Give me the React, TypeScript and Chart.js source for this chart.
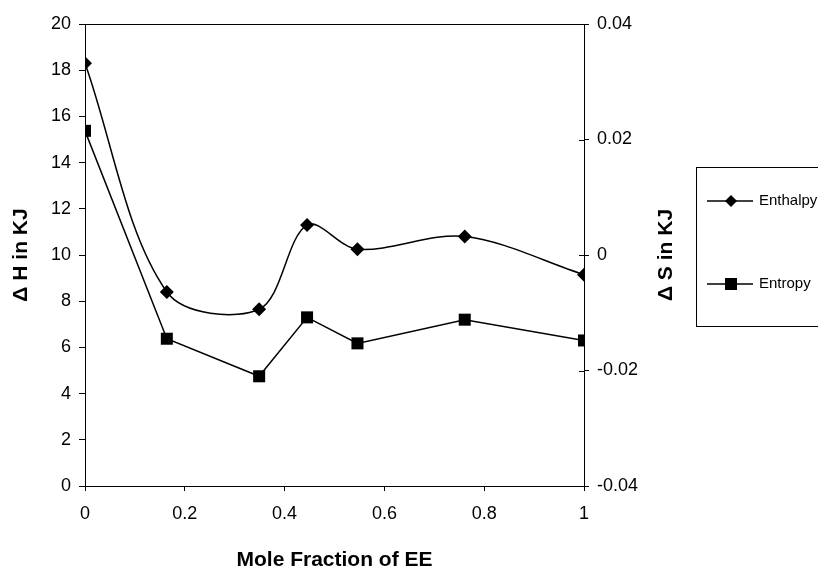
import React, { useEffect, useRef } from "react";
import { Chart, registerables } from "chart.js";

Chart.register(...registerables);

// ---- data ----
const moleFraction = [0, 0.164, 0.349, 0.445, 0.546, 0.761, 1];
const enthalpy = [18.3, 8.4, 7.65, 11.3, 10.25, 10.8, 9.15];
const entropy = [0.0215, -0.0145, -0.021, -0.0108, -0.0153, -0.0112, -0.0148];
const seriesLabels = ["Enthalpy", "Entropy"];
const xTitle = "Mole Fraction of EE";
const yLeftTitle = "Δ H in KJ";
const yRightTitle = "Δ S in KJ";

const FAMILY = "'Liberation Sans', Arial, Helvetica, sans-serif";
const TICK_FONT = { family: FAMILY, size: 18 };
const TITLE_FONT = { family: FAMILY, size: 21, weight: "bold" as const };

const fmt = (v: number | string) => String(Number(Number(v).toFixed(4)));

const framePlugin = {
  id: "frame",
  afterDraw(chart: any) {
    const { ctx, chartArea } = chart;
    ctx.save();
    ctx.strokeStyle = "#000";
    ctx.lineWidth = 1;
    // top border of the plot area
    ctx.beginPath();
    ctx.moveTo(chartArea.left, Math.round(chartArea.top) + 0.5);
    ctx.lineTo(chartArea.right, Math.round(chartArea.top) + 0.5);
    ctx.stroke();
    // inner halves of right-axis ticks
    const y1 = chart.scales.y1;
    y1.ticks.forEach((t: any) => {
      const py = Math.round(y1.getPixelForValue(t.value)) + 0.5;
      ctx.beginPath();
      ctx.moveTo(chartArea.right - 5, py);
      ctx.lineTo(chartArea.right, py);
      ctx.stroke();
    });
    // right axis title, reading bottom-to-top
    ctx.translate(666, (chartArea.top + chartArea.bottom) / 2);
    ctx.rotate(-Math.PI / 2);
    ctx.font = `bold ${TITLE_FONT.size}px ${FAMILY}`;
    ctx.fillStyle = "#000";
    ctx.textAlign = "center";
    ctx.textBaseline = "middle";
    ctx.fillText(yRightTitle, 0, 0);
    ctx.restore();
  },
};

const legendPlugin = {
  id: "boxLegend",
  afterDraw(chart: any) {
    const { ctx } = chart;
    const boxX = 696.5;
    const boxY = 167.5;
    const boxH = 159;
    const rows = [201, 284];
    ctx.save();
    ctx.strokeStyle = "#000";
    ctx.lineWidth = 1;
    ctx.strokeRect(boxX, boxY, 200, boxH);
    chart.data.datasets.forEach((ds: any, i: number) => {
      const y = rows[i];
      ctx.strokeStyle = "#000";
      ctx.lineWidth = 1.5;
      ctx.beginPath();
      ctx.moveTo(707, y);
      ctx.lineTo(753, y);
      ctx.stroke();
      ctx.fillStyle = "#000";
      const cx = 731;
      if (ds.pointStyle === "rectRot") {
        const r = 6;
        ctx.beginPath();
        ctx.moveTo(cx, y - r);
        ctx.lineTo(cx + r, y);
        ctx.lineTo(cx, y + r);
        ctx.lineTo(cx - r, y);
        ctx.closePath();
        ctx.fill();
      } else {
        ctx.fillRect(cx - 6, y - 6, 12, 12);
      }
      ctx.font = `15px ${FAMILY}`;
      ctx.textBaseline = "middle";
      ctx.textAlign = "left";
      ctx.fillText(ds.label, 759, y);
    });
    ctx.restore();
  },
};

export default function App() {
  const ref = useRef<HTMLCanvasElement | null>(null);

  useEffect(() => {
    document.body.style.margin = "0";
    const canvas = ref.current;
    if (!canvas) return;
    const chart = new Chart(canvas, {
      type: "line",
      data: {
        datasets: [
          {
            label: seriesLabels[0],
            data: moleFraction.map((x, i) => ({ x, y: enthalpy[i] })),
            yAxisID: "y",
            borderColor: "#000",
            backgroundColor: "#000",
            borderWidth: 1.5,
            pointStyle: "rectRot",
            pointRadius: 7,
            pointBorderWidth: 0,
            tension: 0.33,
            fill: false,
          },
          {
            label: seriesLabels[1],
            data: moleFraction.map((x, i) => ({ x, y: entropy[i] })),
            yAxisID: "y1",
            borderColor: "#000",
            backgroundColor: "#000",
            borderWidth: 1.5,
            pointStyle: "rect",
            pointRadius: 8.5,
            pointBorderWidth: 0,
            tension: 0,
            fill: false,
          },
        ],
      },
      options: {
        animation: false,
        responsive: false,
        devicePixelRatio: 1,
        layout: { padding: { left: 5, right: 135, top: 24, bottom: 0 } },
        plugins: {
          legend: { display: false },
          tooltip: { enabled: false },
        },
        scales: {
          x: {
            type: "linear",
            min: 0,
            max: 1,
            ticks: {
              stepSize: 0.2,
              color: "#000",
              font: TICK_FONT,
              padding: 12,
              maxRotation: 0,
              callback: (v: any) => fmt(v),
            },
            grid: {
              drawOnChartArea: false,
              color: "#000",
              tickColor: "#000",
              tickLength: 5,
            },
            border: { color: "#000", width: 1 },
            title: {
              display: true,
              text: xTitle,
              color: "#000",
              font: TITLE_FONT,
              padding: { top: 0, bottom: 0 },
            },
            afterFit: (s: any) => {
              s.height = 87;
            },
          },
          y: {
            type: "linear",
            position: "left",
            min: 0,
            max: 20,
            ticks: {
              stepSize: 2,
              color: "#000",
              font: TICK_FONT,
              padding: 8,
              callback: (v: any) => fmt(v),
            },
            grid: {
              drawOnChartArea: false,
              color: "#000",
              tickColor: "#000",
              tickLength: 6,
            },
            border: { color: "#000", width: 1 },
            title: {
              display: true,
              text: yLeftTitle,
              color: "#000",
              font: TITLE_FONT,
              padding: { top: 4, bottom: 4 },
            },
            afterFit: (s: any) => {
              s.width = 80;
            },
          },
          y1: {
            type: "linear",
            position: "right",
            min: -0.04,
            max: 0.04,
            ticks: {
              stepSize: 0.02,
              color: "#000",
              font: TICK_FONT,
              padding: 8,
              callback: (v: any) => fmt(v),
            },
            grid: {
              drawOnChartArea: false,
              color: "#000",
              tickColor: "#000",
              tickLength: 5,
            },
            border: { color: "#000", width: 1 },
            title: { display: false },
            afterFit: (s: any) => {
              s.width = 99;
            },
          },
        },
      },
      plugins: [framePlugin, legendPlugin],
    });
    return () => chart.destroy();
  }, []);

  return (
    <div style={{ position: "fixed", left: 0, top: 0, width: 818, height: 573, background: "#fff" }}>
      <canvas ref={ref} width={818} height={573} style={{ display: "block" }} />
    </div>
  );
}
